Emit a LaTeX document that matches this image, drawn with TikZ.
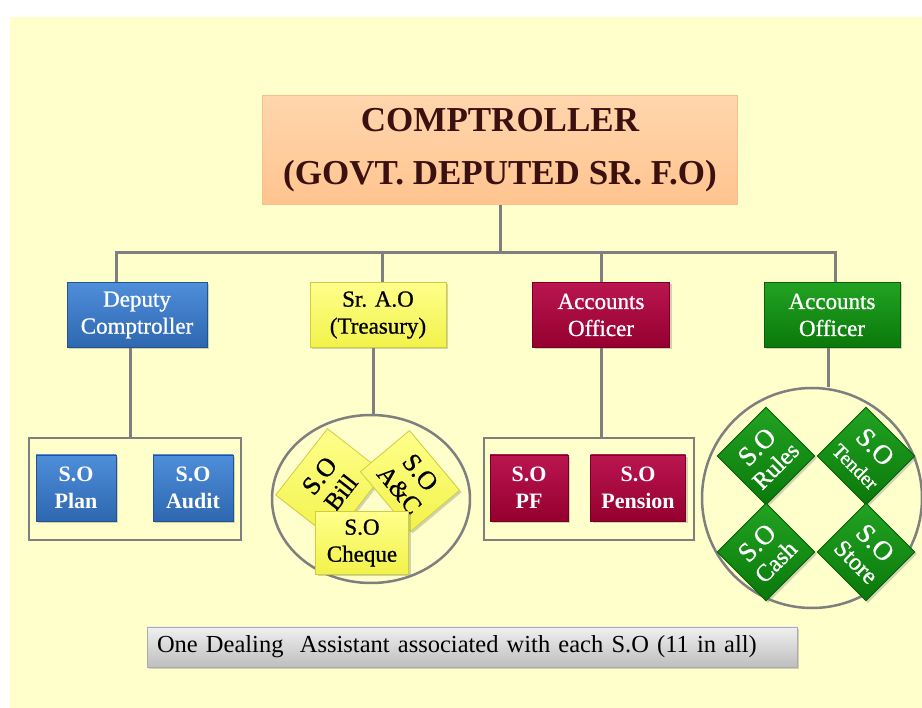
\documentclass[tikz,border=0pt]{standalone}
\usepackage{fontspec}
\setmainfont{Liberation Serif}
\newfontfamily\headfont[FakeBold=0.9]{Liberation Serif}
\usepackage{xcolor}
\usetikzlibrary{positioning, shapes.geometric, shadows}
\definecolor{paper}{HTML}{FFFFCC}
\definecolor{peach}{HTML}{FFC48F}
\definecolor{peachtop}{HTML}{FFD6AD}
\definecolor{peachline}{HTML}{F7C08A}
\definecolor{chieftext}{HTML}{3A1010}
\definecolor{linegrey}{HTML}{7F7F7F}
\definecolor{bluetop}{HTML}{4F8EDA}
\definecolor{bluebot}{HTML}{2E67B0}
\definecolor{yeltop}{HTML}{FFFF8C}
\definecolor{yelbot}{HTML}{F2F24A}
\definecolor{martop}{HTML}{BA1550}
\definecolor{marbot}{HTML}{95002F}
\definecolor{grntop}{HTML}{22A322}
\definecolor{grnbot}{HTML}{0A780A}
\definecolor{bartop}{HTML}{F0F0F0}
\definecolor{barbot}{HTML}{BEBEBE}

\tikzset{
  softshadow/.style={drop shadow={opacity=0.35, shadow xshift=2pt, shadow yshift=-2pt}},
  chiefbox/.style={draw=peachline, line width=1.5pt, top color=peachtop, bottom color=peach,
    minimum width=475pt, minimum height=109pt, align=center, text=chieftext,
    font=\bfseries\fontsize{35}{53}\selectfont},
  headbox/.style={softshadow, line width=0.8pt, minimum width=140pt, minimum height=65pt,
    align=center, font=\headfont\fontsize{23}{27}\selectfont},
  sobox/.style={softshadow, line width=0.8pt, minimum width=80pt, minimum height=66pt,
    align=center, inner sep=2pt, font=\bfseries\fontsize{22}{27}\selectfont},
  tiltbox/.style={sobox, inner sep=0pt, font=\headfont\fontsize{25}{27}\selectfont},
  blue/.style={draw=bluebot!80!black, top color=bluetop, bottom color=bluebot, text=white},
  yel/.style={draw=yelbot!85!black, top color=yeltop, bottom color=yelbot, text=black},
  mar/.style={draw=marbot!80!black, top color=martop, bottom color=marbot, text=white},
  grn/.style={draw=grnbot!80!black, top color=grntop, bottom color=grnbot, text=white},
  groupbox/.style={draw=linegrey, line width=2.5pt, minimum width=212pt, minimum height=102pt},
  ringbox/.style={draw=linegrey, line width=2.5pt, ellipse, inner sep=0pt},
  link/.style={draw=linegrey, line width=3pt},
  notebar/.style={softshadow, top color=bartop, bottom color=barbot, draw=barbot!90!black, line width=0.5pt,
    minimum width=650pt, minimum height=40pt, text width=630pt, inner xsep=10pt, align=left,
    font=\fontsize{24.5}{28}\selectfont}
}

\begin{document}
\begin{tikzpicture}[x=1pt, y=-1pt]
  \useasboundingbox (0,0) rectangle (922,708);
  \fill[paper] (10,17) rectangle (922,708);

  % top of the chart
  \node[chiefbox] (chief) at (500,150) {COMPTROLLER\\(GOVT. DEPUTED SR. F.O)};
  \coordinate (hub) at (500,253);

  % second level
  \node[headbox, blue] (dep) at (137,315) {Deputy\\Comptroller};
  \node[headbox, yel, minimum width=136pt] (sra) at (378,315) {Sr. A.O\\(Treasury)};
  \node[headbox, mar, minimum width=137pt] (aoa) at (601,315) {Accounts\\Officer};
  \node[headbox, grn, minimum width=136pt] (aob) at (832,315) {Accounts\\Officer};

  \draw[link] (chief.south) -- (hub);
  \draw[link] (hub) -| ([xshift=-21pt]dep.north);
  \draw[link] (hub) -| ([xshift=4pt]sra.north);
  \draw[link] (hub) -| (aoa.north);
  \draw[link] (hub) -| ([xshift=3pt]aob.north);

  % deputy comptroller group
  \node[groupbox] (grpA) at (135,489) {};
  \node[sobox, blue] (plan) at (76,488) {S.O\\Plan};
  \node[sobox, blue] (audit) at (193,488) {S.O\\Audit};
  \draw[link] ([xshift=-7pt]dep.south) -- ([xshift=-7pt]dep.south |- grpA.north);

  % treasury group
  \node[ringbox, minimum width=198pt, minimum height=168pt] (ringB) at (371,499) {};
  \node[tiltbox, yel, minimum width=84pt, minimum height=72pt, rotate=52] (bill) at (330,484)
    {{\fontsize{26}{27}\selectfont S.O}\\Bill};
  \node[tiltbox, yel, minimum width=78pt, minimum height=64pt, rotate=-50] (acc) at (410,481)
    {{\fontsize{26}{27}\selectfont S.O}\\A\&C};
  \node[sobox, yel, font=\headfont\fontsize{23}{27}\selectfont, minimum width=93pt, minimum height=63pt]
    (cheque) at (362,543) {S.O\\Cheque};
  \draw[link] ([xshift=-5pt]sra.south) -- ([xshift=-5pt]sra.south |- ringB.north);

  % first accounts officer group
  \node[groupbox, minimum width=210pt] (grpC) at (589,489) {};
  \node[sobox, mar, minimum width=78pt] (pf) at (529,488) {S.O\\PF};
  \node[sobox, mar, minimum width=95pt] (pension) at (638,488) {S.O\\Pension};
  \draw[link] (aoa.south) -- (aoa.south |- grpC.north);

  % second accounts officer group
  \node[ringbox, minimum width=220pt, minimum height=220pt] (ringD) at (812,498) {};
  \foreach \nm/\cx/\cy/\ang/\lbl/\sz in {rules/766/456/45/Rules/24, tender/866/456/-45/Tender/20,
      cash/766/552/45/Cash/24, store/866/552/-45/Store/24} {
    \node[tiltbox, grn, font=\headfont\fontsize{\sz}{26}\selectfont, minimum width=69pt,
      minimum height=69pt, rotate=\ang] (\nm) at (\cx,\cy) {{\fontsize{27}{28}\selectfont S.O}\\\lbl};
  }
  \draw[link] ([xshift=-4pt]aob.south) -- ([xshift=-4pt]aob.south |- ringD.north);

  % note at the bottom
  \node[notebar] (note) at (472,647) {One Dealing\ \ Assistant associated with each S.O (11 in all)};
\end{tikzpicture}
\end{document}
